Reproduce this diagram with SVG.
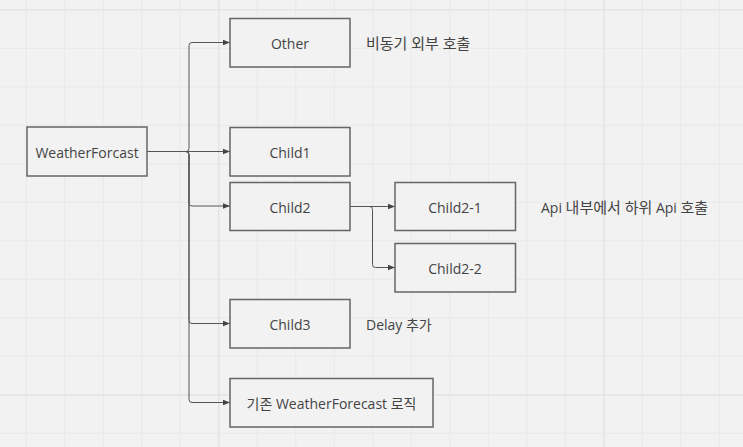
<svg xmlns="http://www.w3.org/2000/svg" width="743" height="447" viewBox="0 0 743 447">
<defs>
<pattern id="grid" x="25.8" y="9.3" width="38.5" height="38.5" patternUnits="userSpaceOnUse">
<path d="M0.5 0V38.5M0 0.5H38.5" fill="none" stroke="#e8e8e8" stroke-width="1"/>
</pattern>
<marker id="arr" viewBox="0 0 10 10" refX="10" refY="5" markerWidth="7" markerHeight="7" markerUnits="userSpaceOnUse" orient="auto">
<path d="M0 1L10 5L0 9z" fill="#444"/>
</marker>
<style>
.box{fill:#f2f2f2;stroke:#666;stroke-width:1.5}
.t{font-family:"Open Sans","Noto Sans CJK KR",sans-serif;font-size:14px;fill:#444;text-anchor:middle;dominant-baseline:central}
.l{font-family:"Open Sans","Noto Sans CJK KR",sans-serif;font-size:14px;fill:#444;dominant-baseline:central}
.k{font-size:15px}
.c{fill:none;stroke:#555;stroke-width:1}
</style>
</defs>
<rect width="743" height="447" fill="#f2f2f2"/>
<rect width="743" height="447" fill="url(#grid)"/>
<path d="M218.8 0V447M603.8 0V447M0 9.8H743M0 394.8H743" stroke="#e3e3e3" stroke-width="1.2" fill="none"/>
<g id="connectors">
<path class="c" d="M147 151.5H186Q189 151.5 189 148.5V45.5Q189 42.5 192 42.5H230" marker-end="url(#arr)"/>
<path class="c" d="M147 151.5H230" marker-end="url(#arr)"/>
<path class="c" d="M147 151.5H186Q189 151.5 189 154.5V203Q189 206 192 206H230" marker-end="url(#arr)"/>
<path class="c" d="M147 151.5H186Q189 151.5 189 154.5V320.5Q189 323.5 192 323.5H230" marker-end="url(#arr)"/>
<path class="c" d="M147 151.5H186Q189 151.5 189 154.5V399.5Q189 402.5 192 402.5H230" marker-end="url(#arr)"/>
<path class="c" d="M350 206.5H395" marker-end="url(#arr)"/>
<path class="c" d="M350 206.5H369.5Q372.5 206.5 372.5 209.5V264.5Q372.5 267.5 375.5 267.5H395" marker-end="url(#arr)"/>
</g>
<g id="weatherforcast"><rect class="box" x="27" y="127" width="120" height="49"/><text class="t" x="87" y="152">WeatherForcast</text></g>
<g id="other"><rect class="box" x="230" y="18.5" width="120" height="48.5"/><text class="t" x="290" y="43">Other</text></g>
<g id="child1"><rect class="box" x="230" y="127.5" width="120" height="48.5"/><text class="t" x="290" y="152">Child1</text></g>
<g id="child2"><rect class="box" x="230" y="182.5" width="120" height="48"/><text class="t" x="290" y="207">Child2</text></g>
<g id="child2-1"><rect class="box" x="395" y="182.5" width="120.5" height="48"/><text class="t" x="455" y="207">Child2-1</text></g>
<g id="child2-2"><rect class="box" x="395" y="243.5" width="120.5" height="48.5"/><text class="t" x="455" y="268">Child2-2</text></g>
<g id="child3"><rect class="box" x="230" y="299.5" width="120" height="48.5"/><text class="t" x="290" y="324">Child3</text></g>
<g id="legacy"><rect class="box" x="230" y="378.5" width="203" height="48.5"/><text class="t" x="331.5" y="403">기존 WeatherForecast 로직</text></g>
<g id="labels">
<text class="l k" x="366" y="43">비동기 외부 호출</text>
<text class="l" x="541" y="207">Api <tspan class="k">내부에서 하위</tspan> Api <tspan class="k">호출</tspan></text>
<text class="l" x="366" y="324">Delay 추가</text>
</g>
</svg>
